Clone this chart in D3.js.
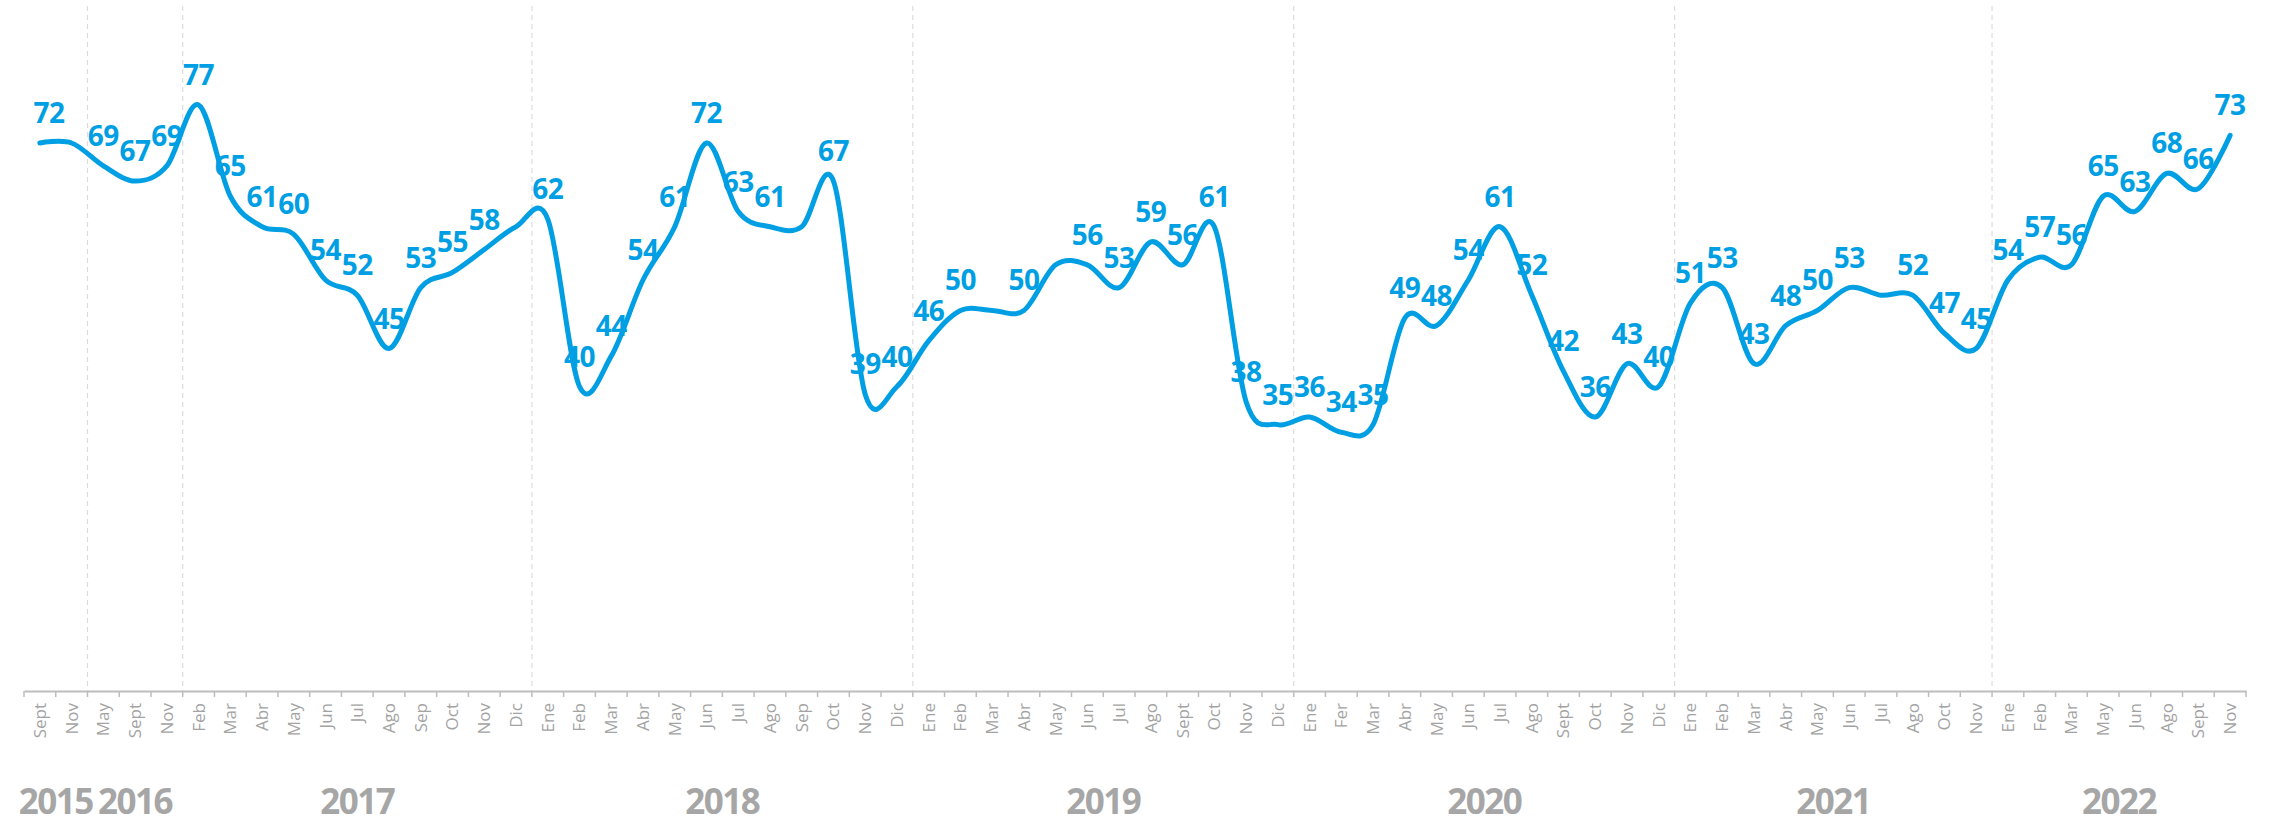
<!DOCTYPE html>
<html>
<head>
<meta charset="utf-8">
<script src="https://cdnjs.cloudflare.com/ajax/libs/d3/7.8.5/d3.min.js"></script>
<style>
body{margin:0;background:#fff;}
.month text{font-family:"Open Sans",sans-serif;font-size:17px;fill:#a3a3a3;}
</style>
</head>
<body>
<div class="d3chart"></div>
<script>
// month of each point (Fer is spelt like that in the original)
var months = ["Sept","Nov",
  "May","Sept","Nov",
  "Feb","Mar","Abr","May","Jun","Jul","Ago","Sep","Oct","Nov","Dic",
  "Ene","Feb","Mar","Abr","May","Jun","Jul","Ago","Sep","Oct","Nov","Dic",
  "Ene","Feb","Mar","Abr","May","Jun","Jul","Ago","Sept","Oct","Nov","Dic",
  "Ene","Fer","Mar","Abr","May","Jun","Jul","Ago","Sept","Oct","Nov","Dic",
  "Ene","Feb","Mar","Abr","May","Jun","Jul","Ago","Oct","Nov",
  "Ene","Feb","Mar","May","Jun","Ago","Sept","Nov"];

var values = [72,72,
  69,67,69,
  77,65,61,60,54,52,45,53,55,58,61,
  62,40,44,54,61,72,63,61,61,67,39,40,
  46,50,50,50,56,56,53,59,56,61,38,35,
  36,34,35,49,48,54,61,52,42,36,43,40,
  51,53,43,48,50,53,52,52,47,45,
  54,57,56,65,63,68,66,73];

// points drawn without a number
var noLabel = [1, 15, 24, 30, 32, 58];

var years = ["2015","2016","2017","2018","2019","2020","2021","2022"];
var yearStart = [0, 2, 5, 16, 28, 40, 52, 62];

var width = 2272,
    height = 820;

var svg = d3.select(".d3chart").append("svg")
    .attr("width", width)
    .attr("height", height);

var x = d3.scaleBand()
    .domain(d3.range(months.length))
    .range([24, 2246])
    .padding(0);

var y = d3.scaleLinear()
    .domain([0, 90])
    .range([691, 6]);

var cx = function(i){ return x(i) + x.bandwidth() / 2; };

// dashed lines between years
svg.append("g")
    .selectAll("line")
    .data(yearStart.slice(1))
    .enter().append("line")
    .attr("x1", function(d){ return x(d); })
    .attr("x2", function(d){ return x(d); })
    .attr("y1", y(90))
    .attr("y2", y(0))
    .attr("stroke", "#dcdcdc")
    .attr("stroke-width", 1.2)
    .attr("stroke-dasharray", "5,4");

// x axis, month names turned up
var axis = svg.append("g")
    .attr("class", "month")
    .attr("transform", "translate(0," + y(0) + ")")
    .call(d3.axisBottom(x).tickSize(0).tickSizeOuter(0).tickFormat(function(i){ return months[i]; }));

axis.select(".domain").attr("stroke", "#bdbdbd").attr("stroke-width", 2);
axis.selectAll("text")
    .attr("transform", "rotate(-90)")
    .attr("text-anchor", "end")
    .attr("x", -12)
    .attr("y", 0)
    .attr("dy", "0.35em");

// ticks sit between the months
axis.selectAll(".edge")
    .data(d3.range(months.length + 1))
    .enter().append("line")
    .attr("class", "edge")
    .attr("x1", function(d){ return x.range()[0] + d * x.step(); })
    .attr("x2", function(d){ return x.range()[0] + d * x.step(); })
    .attr("y1", 0)
    .attr("y2", 6)
    .attr("stroke", "#bdbdbd")
    .attr("stroke-width", 1.5);

// year names under the months
svg.append("g")
    .selectAll("text")
    .data(years)
    .enter().append("text")
    .attr("x", function(d, k){
        var a = x(yearStart[k]);
        var b = k < years.length - 1 ? x(yearStart[k + 1]) : x.range()[1];
        return (a + b) / 2;
    })
    .attr("y", 814)
    .attr("text-anchor", "middle")
    .attr("font-family", "Open Sans, sans-serif")
    .attr("font-weight", 700)
    .attr("font-size", "35px")
    .attr("letter-spacing", "-1.5px")
    .attr("fill", "#a6a6a6")
    .text(function(d){ return d; });

var line = d3.line()
    .x(function(d, i){ return cx(i); })
    .y(function(d){ return y(d); })
    .curve(d3.curveCardinal.tension(0));

svg.append("path")
    .datum(values)
    .attr("d", line)
    .attr("fill", "none")
    .attr("stroke", "#009fe3")
    .attr("stroke-width", 5)
    .attr("stroke-linecap", "round")
    .attr("stroke-linejoin", "round");

svg.append("g")
    .selectAll("text")
    .data(values.map(function(v, i){ return {v: v, i: i}; }).filter(function(d){ return noLabel.indexOf(d.i) < 0; }))
    .enter().append("text")
    .attr("x", function(d){ return Math.max(cx(d.i), x.range()[0] + 25); })
    .attr("y", function(d){ return y(d.v) - 20; })
    .attr("text-anchor", "middle")
    .attr("font-family", "Open Sans, sans-serif")
    .attr("font-weight", 700)
    .attr("font-size", "28px")
    .attr("letter-spacing", "-0.5px")
    .attr("fill", "#009fe3")
    .text(function(d){ return d.v; });
</script>
</body>
</html>
